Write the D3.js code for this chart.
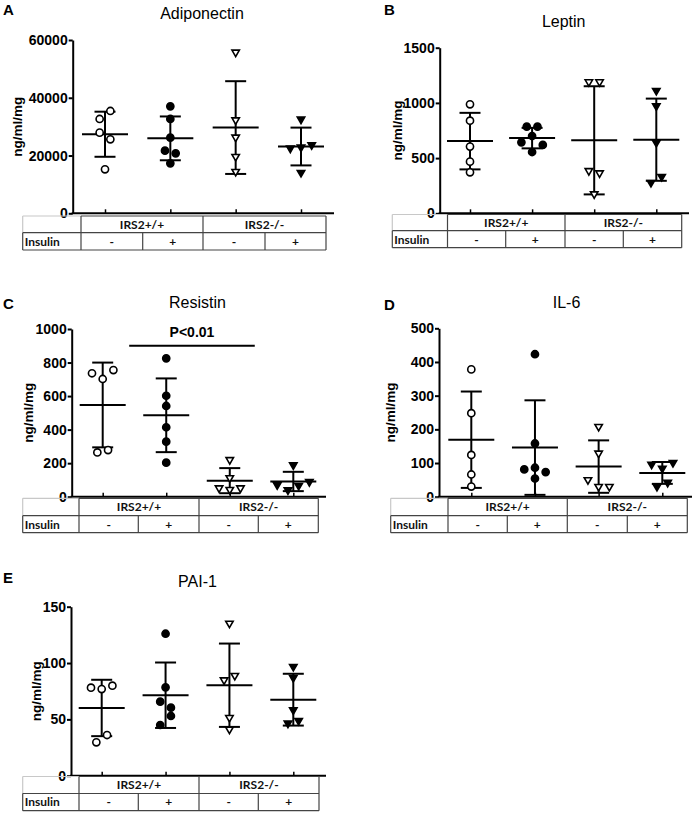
<!DOCTYPE html>
<html><head><meta charset="utf-8">
<script src="https://cdn.jsdelivr.net/npm/d3@7"></script>
<style>body{margin:0;background:#fff}svg{display:block}</style>
</head><body><svg id="c" width="698" height="816"></svg>
<script>
// ---------- DATA ----------
const groupKeys = ["wt_minus", "wt_plus", "ko_minus", "ko_plus"];
const genotypes = ["IRS2+/+", "IRS2-/-"];
const insulinLabels = ["-", "+", "-", "+"];
const rowLabel = "Insulin";
const yLabel = "ng/ml/mg";

const adiponectin = [
  [32660, 35430, 27930, 25620, 15230],
  [37040, 32660, 26190, 21690, 20770, 17310],
  [55740, 32310, 26310, 19620, 14430],
  [32540, 22500, 22850, 23660, 14080]
];
const leptin = [
  [987, 839, 604, 468, 371],
  [785, 785, 643, 700, 619, 555],
  [1190, 1190, 385, 365, 175],
  [1111, 972, 640, 278, 332]
];
const resistin = [
  [736, 702, 755, 264, 278],
  [825, 602, 541, 414, 328, 203],
  [220, 112, 52, 42, 52],
  [189, 70, 40, 66, 89]
];
const il6 = [
  [378, 248, 124, 66, 30],
  [423, 158, 81, 86, 73, 54],
  [208, 129, 50, 30, 30],
  [96, 84, 101, 30, 42]
];
const pai1 = [
  [78.1, 76.9, 79.9, 29.6, 36.1],
  [126, 78.4, 65.7, 60.4, 45, 53],
  [135.2, 84.9, 88.8, 51.5, 41.1],
  [96.8, 87, 58.3, 46.5, 48.8]
];
const adiponectinTicks = [0, 20000, 40000, 60000];
const leptinTicks = [0, 500, 1000, 1500];
const resistinTicks = [0, 200, 400, 600, 800, 1000];
const il6Ticks = [0, 100, 200, 300, 400, 500];
const pai1Ticks = [0, 50, 100, 150];
const resistinSig = {text: "P<0.01", lineLevel: 900, textLevel: 950};

// ---------- LAYOUT ----------
const panels = [
  {letter: "A", title: "Adiponectin", data: adiponectin, ticks: adiponectinTicks,
   ax: 72.7, y0: 213.3, yTop: 40, x1: 105, x4: 301, axEnd: 334, ylx: 17,
   titleX: 202, titleY: 18.5, letX: 3, letY: 15,
   tbl: {left: 22.7, cols: [81, 142.7, 203, 265, 326], rows: [216, 232.7, 250]}},
  {letter: "B", title: "Leptin", data: leptin, ticks: leptinTicks,
   ax: 439.7, y0: 213.3, yTop: 47.7, x1: 470, x4: 656.3, axEnd: 689, ylx: 397,
   titleX: 563.7, titleY: 26.7, letX: 384, letY: 15,
   tbl: {left: 392.3, cols: [447.5, 505.7, 565, 623.3, 681.7], rows: [214.5, 230.7, 247.7]}},
  {letter: "C", title: "Resistin", data: resistin, ticks: resistinTicks, sig: resistinSig,
   ax: 71.7, y0: 496.7, yTop: 329, x1: 102.7, x4: 293.3, axEnd: 326, ylx: 28,
   titleX: 197.5, titleY: 307.7, letX: 3, letY: 309,
   tbl: {left: 22.7, cols: [79, 138.3, 199, 258.3, 318.3], rows: [498.3, 515.7, 532.7]}},
  {letter: "D", title: "IL-6", data: il6, ticks: il6Ticks,
   ax: 439, y0: 496.7, yTop: 328.3, x1: 471.3, x4: 662.3, axEnd: 692, ylx: 390.3,
   titleX: 566.5, titleY: 307.7, letX: 384, letY: 310,
   tbl: {left: 390.7, cols: [448, 507.3, 567.3, 627.3, 687.3], rows: [498.3, 515.7, 532.7]}},
  {letter: "E", title: "PAI-1", data: pai1, ticks: pai1Ticks,
   ax: 71, y0: 775.7, yTop: 606.7, x1: 101.7, x4: 293.3, axEnd: 326, ylx: 36,
   titleX: 197.5, titleY: 587.3, letX: 3, letY: 583,
   tbl: {left: 22.7, cols: [79, 138.3, 199, 258.3, 319], rows: [776.5, 793.5, 810.7]}}
];

const svg = d3.select("#c");
svg.append("rect").attr("width", 698).attr("height", 816).attr("fill", "#fff");
const SANS = "'Liberation Sans', Arial, sans-serif";
const TFONT = "Lato, 'Open Sans', sans-serif";

const circle = d3.symbol().type(d3.symbolCircle).size(40);
const tri = d3.symbol().type(d3.symbolTriangle).size(24);

function layoutPoints(vals, y, cx) {
  const pts = vals.map((v, i) => ({v, i, py: y(v)}));
  const sorted = pts.slice().sort((a, b) => a.py - b.py);
  const rows = [];
  let cur = null;
  sorted.forEach(p => {
    if (cur && p.py - cur[0].py < 9.3) cur.push(p);
    else { cur = [p]; rows.push(cur); }
  });
  const S = 10.7;
  rows.forEach(r => {
    r.sort((a, b) => a.i - b.i);
    r.forEach((p, k) => { p.px = cx + (k - (r.length - 1) / 2) * S; });
  });
  return pts;
}

panels.forEach(cfg => {
  const g = svg.append("g");
  const y = d3.scaleLinear().domain([0, d3.max(cfg.ticks)]).range([cfg.y0, cfg.yTop]);
  const x = d3.scalePoint().domain(groupKeys).range([cfg.x1, cfg.x4]);

  g.append("text").attr("x", cfg.letX).attr("y", cfg.letY).text(cfg.letter)
    .attr("font-family", SANS).attr("font-weight", "bold").attr("font-size", 15);
  g.append("text").attr("x", cfg.titleX).attr("y", cfg.titleY).text(cfg.title)
    .attr("text-anchor", "middle").attr("font-family", SANS).attr("font-size", 16);

  const ya = g.append("g").attr("transform", `translate(${cfg.ax},0)`)
    .call(d3.axisLeft(y).tickValues(cfg.ticks).tickSize(4).tickSizeOuter(0).tickPadding(1).tickFormat(d3.format("d")));
  ya.select(".domain").attr("stroke", "#000").attr("stroke-width", 2);
  ya.selectAll(".tick line").attr("stroke", "#000").attr("stroke-width", 2);
  ya.selectAll(".tick text").attr("font-family", SANS).attr("font-weight", "bold")
    .attr("font-size", 14).attr("fill", "#000");

  const ymid = (cfg.y0 + cfg.yTop) / 2;
  g.append("text").attr("transform", `translate(${cfg.ylx},${ymid}) rotate(-90)`)
    .attr("text-anchor", "middle").attr("dy", "0.35em").text(yLabel)
    .attr("font-family", SANS).attr("font-weight", "bold").attr("font-size", 13.5);

  const xa = g.append("g").attr("transform", `translate(0,${cfg.y0})`)
    .call(d3.axisBottom(x).tickSize(-4).tickSizeOuter(0).tickFormat(""));
  xa.select(".domain").remove();
  xa.selectAll(".tick line").attr("stroke", "#000").attr("stroke-width", 1.5);
  g.append("line").attr("x1", cfg.ax - 1).attr("x2", cfg.axEnd).attr("y1", cfg.y0).attr("y2", cfg.y0)
    .attr("stroke", "#000").attr("stroke-width", 2);

  cfg.data.forEach((vals, gi) => {
    const cx = x(groupKeys[gi]);
    const mean = d3.mean(vals), sd = d3.deviation(vals);
    const eg = g.append("g").attr("stroke", "#000").attr("stroke-width", 2);
    eg.append("line").attr("x1", cx).attr("x2", cx).attr("y1", y(mean + sd)).attr("y2", y(Math.max(0, mean - sd)));
    eg.append("line").attr("x1", cx - 10.5).attr("x2", cx + 10.5).attr("y1", y(mean + sd)).attr("y2", y(mean + sd));
    eg.append("line").attr("x1", cx - 10.5).attr("x2", cx + 10.5).attr("y1", y(mean - sd)).attr("y2", y(mean - sd));
    eg.append("line").attr("x1", cx - 23).attr("x2", cx + 23).attr("y1", y(mean)).attr("y2", y(mean));

    const pts = layoutPoints(vals, y, cx);
    const filled = gi % 2 === 1;
    const isTri = gi >= 2;
    g.selectAll(null).data(pts).enter().append("path")
      .attr("d", isTri ? tri() : circle())
      .attr("transform", d => `translate(${d.px},${d.py})` + (isTri ? " rotate(180)" : ""))
      .attr("fill", filled ? "#000" : "#fff")
      .attr("stroke", "#000").attr("stroke-width", 1.6);
  });

  if (cfg.sig) {
    const xa1 = x(groupKeys[0]) + 26.5, xa2 = x(groupKeys[2]) + 25;
    g.append("line").attr("x1", xa1).attr("x2", xa2).attr("y1", y(cfg.sig.lineLevel)).attr("y2", y(cfg.sig.lineLevel))
      .attr("stroke", "#000").attr("stroke-width", 2);
    g.append("text").attr("x", (xa1 + xa2) / 2).attr("y", y(cfg.sig.textLevel)).text(cfg.sig.text)
      .attr("text-anchor", "middle").attr("font-family", SANS).attr("font-weight", "bold").attr("font-size", 14);
  }

  const t = cfg.tbl, c = t.cols, r = t.rows;
  const tg = g.append("g").attr("fill", "none");
  const dark = "#444", light = "#c8c8c8";
  const L = (x1, y1, x2, y2, col) => tg.append("line").attr("x1", x1).attr("y1", y1).attr("x2", x2).attr("y2", y2)
    .attr("stroke", col).attr("stroke-width", 1.2);
  L(t.left, r[0], c[0], r[0], light);
  L(t.left, r[0], t.left, r[1], light);
  L(c[0], r[0], c[4], r[0], dark);
  L(t.left, r[1], c[4], r[1], dark);
  L(t.left, r[2], c[4], r[2], dark);
  L(t.left, r[1], t.left, r[2], dark);
  [c[0], c[2], c[4]].forEach(xx => L(xx, r[0], xx, r[2], dark));
  [c[1], c[3]].forEach(xx => L(xx, r[1], xx, r[2], dark));
  const txt = (xx, yy, s, anchor) => g.append("text").attr("x", xx).attr("y", yy).attr("dy", "0.36em")
    .attr("text-anchor", anchor).text(s).attr("font-family", TFONT).attr("font-weight", "bold")
    .attr("font-size", 12).attr("fill", "#111");
  genotypes.forEach((s, i) => txt((c[i * 2] + c[i * 2 + 2]) / 2, (r[0] + r[1]) / 2, s, "middle"));
  insulinLabels.forEach((s, i) => txt((c[i] + c[i + 1]) / 2, (r[1] + r[2]) / 2, s, "middle"));
  txt(t.left + 2, (r[1] + r[2]) / 2, rowLabel, "start");
});
</script></body></html>
